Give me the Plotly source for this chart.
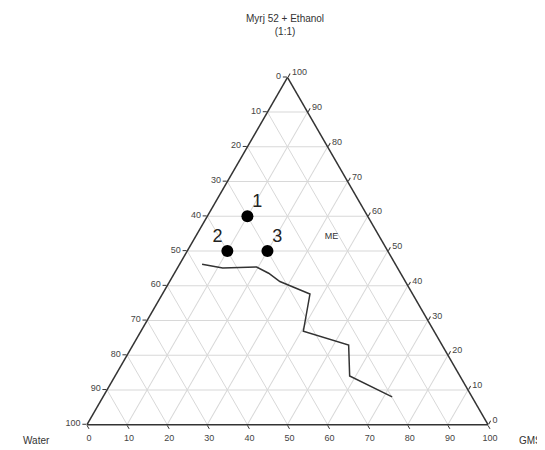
import plotly.graph_objects as go

# Data (percent): a = Myrj 52 + Ethanol (apex), b = Water, c = GMS
point_labels = ["1", "2", "3"]
point_a = [60, 50, 50]
point_b = [30, 40, 30]
point_c = [10, 10, 20]

boundary_a = [46.2, 45.1, 45.4, 43.6, 41.2, 37.6, 26.9, 22.9, 14.0, 8.0]
boundary_b = [48.2, 43.6, 35.0, 32.9, 31.3, 25.6, 32.6, 23.3, 27.5, 19.9]
boundary_c = [5.6, 11.3, 19.6, 23.5, 27.5, 36.8, 40.5, 53.8, 58.5, 72.1]

region_label = "ME"
region_a, region_b, region_c = [54], [12], [34]

tick_vals = list(range(0, 101, 10))

FONT = "Liberation Sans, Arial, sans-serif"
W, H = 545, 450

fig = go.Figure()

fig.add_trace(go.Scatterternary(
    a=boundary_a, b=boundary_b, c=boundary_c,
    mode="lines", line=dict(color="#333333", width=1.5),
    hoverinfo="skip", showlegend=False))

fig.add_trace(go.Scatterternary(
    a=point_a, b=point_b, c=point_c,
    mode="markers", marker=dict(color="#000000", size=12),
    showlegend=False))

fig.add_trace(go.Scatterternary(
    a=point_a, b=point_b, c=point_c,
    mode="markers+text", text=point_labels,
    textposition=["top right", "top left", "top right"],
    textfont=dict(family=FONT, size=18, color="#222222"),
    marker=dict(color="rgba(0,0,0,0)", size=6),
    hoverinfo="skip", showlegend=False))

fig.add_trace(go.Scatterternary(
    a=region_a, b=region_b, c=region_c,
    mode="text", text=[region_label],
    textfont=dict(family=FONT, size=9, color="#333333"),
    showlegend=False))

def axis(ticktext):
    return dict(
        min=0, tickmode="array", tickvals=tick_vals, ticktext=ticktext,
        title=dict(text=""),
        ticks="outside", ticklen=4, tickcolor="#333333",
        tickfont=dict(family=FONT, size=9, color="#444444"),
        linecolor="#333333", linewidth=1.5,
        gridcolor="#d8d8d8", gridwidth=1, showgrid=True)

rev = [str(100 - v) for v in tick_vals]

x0, x1 = 79 / W, 480 / W
y0, y1 = (H - 417) / H, (H - 69) / H

fig.update_layout(
    width=W, height=H,
    margin=dict(l=0, r=0, t=0, b=0),
    paper_bgcolor="white",
    font=dict(family=FONT, color="#333333"),
    ternary=dict(
        sum=100,
        domain=dict(x=[x0, x1], y=[y0, y1]),
        bgcolor="white",
        aaxis=axis(rev), baxis=axis(rev), caxis=axis(rev)),
    annotations=[
        dict(text="Myrj 52 + Ethanol<br>(1:1)", x=277 / W, y=1 - 17 / H,
             xref="paper", yref="paper", showarrow=False,
             xanchor="center", yanchor="middle",
             font=dict(family=FONT, size=10, color="#333333")),
        dict(text="Water", x=28 / W, y=1 - 432 / H, xref="paper", yref="paper",
             showarrow=False, xanchor="center", yanchor="middle",
             font=dict(family=FONT, size=10, color="#333333")),
        dict(text="GMS", x=522 / W, y=1 - 432 / H, xref="paper", yref="paper",
             showarrow=False, xanchor="center", yanchor="middle",
             font=dict(family=FONT, size=10, color="#333333")),
    ],
)

fig.write_html("out.html")
